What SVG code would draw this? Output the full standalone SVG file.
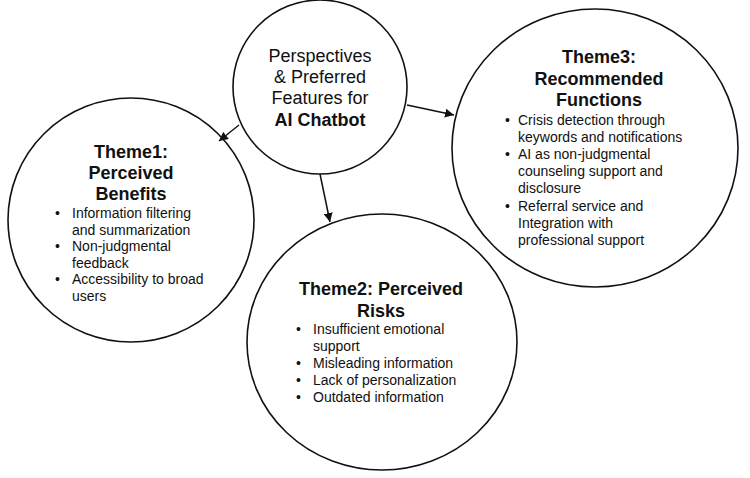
<svg xmlns="http://www.w3.org/2000/svg" width="750" height="478" viewBox="0 0 750 478">
<defs>
<style>
.node{fill:#fff;stroke:#111;stroke-width:1.6}
.conn line{stroke:#111;stroke-width:1.5}
text{font-family:"Liberation Sans",Arial,sans-serif;fill:#111}
.t{font-size:18px}
.h{font-size:18px;font-weight:bold;text-anchor:middle}
.b{font-size:14px}
.c{text-anchor:middle}
</style>
<marker id="ah" viewBox="0 0 10 10" refX="10" refY="5" markerWidth="9" markerHeight="9" markerUnits="userSpaceOnUse" orient="auto">
<path d="M0,0 L10,5 L0,10 z" fill="#111"/>
</marker>
</defs>
<rect width="750" height="478" fill="#fff"/>
<g id="theme1">
<ellipse class="node" cx="131" cy="220" rx="123" ry="122"/>
<text class="h" x="131" y="158">Theme1:</text>
<text class="h" x="131" y="179">Perceived</text>
<text class="h" x="131" y="200">Benefits</text>
<text class="b" x="55" y="218">•</text>
<text class="b" x="72" y="218">Information filtering</text>
<text class="b" x="72" y="235">and summarization</text>
<text class="b" x="55" y="251">•</text>
<text class="b" x="72" y="251">Non-judgmental</text>
<text class="b" x="72" y="268">feedback</text>
<text class="b" x="55" y="284">•</text>
<text class="b" x="72" y="284">Accessibility to broad</text>
<text class="b" x="72" y="301">users</text>
</g>
<g id="theme3">
<ellipse class="node" cx="595" cy="148" rx="143" ry="139"/>
<text class="h" x="599" y="63">Theme3:</text>
<text class="h" x="599" y="85">Recommended</text>
<text class="h" x="599" y="106">Functions</text>
<text class="b" x="505" y="125">•</text>
<text class="b" x="518" y="125">Crisis detection through</text>
<text class="b" x="518" y="142">keywords and notifications</text>
<text class="b" x="505" y="159">•</text>
<text class="b" x="518" y="159">AI as non-judgmental</text>
<text class="b" x="518" y="176">counseling support and</text>
<text class="b" x="518" y="193">disclosure</text>
<text class="b" x="505" y="211">•</text>
<text class="b" x="518" y="211">Referral service and</text>
<text class="b" x="518" y="228">Integration with</text>
<text class="b" x="518" y="245">professional support</text>
</g>
<g id="theme2">
<ellipse class="node" cx="382" cy="342" rx="135" ry="128"/>
<text class="h" x="381" y="295">Theme2: Perceived</text>
<text class="h" x="381" y="317">Risks</text>
<text class="b" x="296" y="334">•</text>
<text class="b" x="313" y="334">Insufficient emotional</text>
<text class="b" x="313" y="351">support</text>
<text class="b" x="296" y="368">•</text>
<text class="b" x="313" y="368">Misleading information</text>
<text class="b" x="296" y="385">•</text>
<text class="b" x="313" y="385">Lack of personalization</text>
<text class="b" x="296" y="402">•</text>
<text class="b" x="313" y="402">Outdated information</text>
</g>
<g id="center">
<circle class="node" cx="320" cy="87" r="87"/>
<text class="t c" x="320" y="62">Perspectives</text>
<text class="t c" x="320" y="83">&amp; Preferred</text>
<text class="t c" x="320" y="104">Features for</text>
<text class="t c" x="320" y="126" font-weight="bold">AI Chatbot</text>
</g>
<g id="connectors" class="conn">
<line x1="239" y1="125" x2="219" y2="141" marker-end="url(#ah)"/>
<line x1="320" y1="174" x2="330" y2="222" marker-end="url(#ah)"/>
<line x1="407" y1="105" x2="454" y2="115" marker-end="url(#ah)"/>
</g>
</svg>
